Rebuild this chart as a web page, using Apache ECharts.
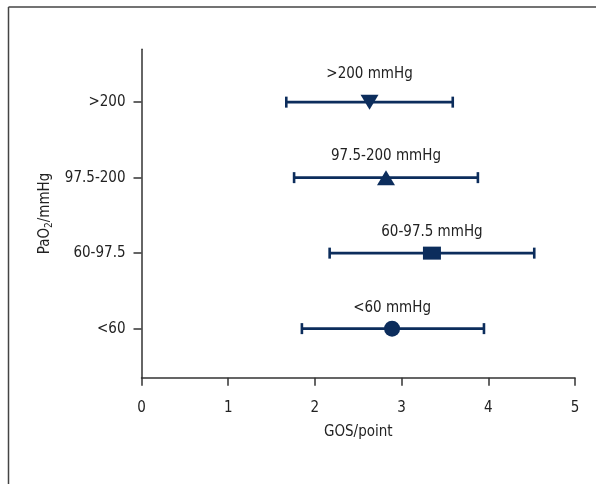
<!DOCTYPE html>
<html><head><meta charset="utf-8">
<script src="https://cdn.jsdelivr.net/npm/echarts@6/dist/echarts.min.js"></script>
<style>html,body{margin:0;padding:0;background:#fff}#c{width:596px;height:484px}</style>
</head><body><div id="c"></div>
<script>
// ---- data ----
const categories = ['<60', '60-97.5', '97.5-200', '>200'];
const groupLabels = ['<60 mmHg', '60-97.5 mmHg', '97.5-200 mmHg', '>200 mmHg'];
const means = [2.89, 3.35, 2.82, 2.63];
const lower = [1.85, 2.17, 1.76, 1.67];
const upper = [3.95, 4.53, 3.88, 3.59];
const xTicks = [0, 1, 2, 3, 4, 5];

// ---- style ----
const FONT = "'Liberation Sans Narrow', 'DejaVu Sans Condensed', sans-serif";
const FS = 15;
const NAVY = '#0c2d5c';
const TXT = '#222';
const markerStyle = {
  '<60': { symbol: 'circle', size: 16, rotate: 0, labelOffset: 21 },
  '60-97.5': { symbol: 'rect', size: [18, 13], rotate: 0, labelOffset: 21 },
  '97.5-200': { symbol: 'triangle', size: [18, 15], rotate: 0, labelOffset: 22 },
  '>200': { symbol: 'triangle', size: [18, 15], rotate: 180, labelOffset: 28 }
};

const chart = echarts.init(document.getElementById('c'), null, { renderer: 'canvas' });
const yOf = i => i + 1;

const barData = categories.map((c, i) => [lower[i], upper[i], yOf(i)]);
const pointData = categories.map((c, i) => {
  const m = markerStyle[c];
  return { value: [means[i], yOf(i)], symbol: m.symbol, symbolSize: m.size, symbolRotate: m.rotate };
});
const labelData = categories.map((c, i) => [means[i], yOf(i), i]);

const option = {
  animation: false,
  backgroundColor: '#fff',
  textStyle: { fontFamily: FONT },
  grid: { left: 141.5, right: 21, top: 49.3, bottom: 106.3, containLabel: false },
  xAxis: {
    type: 'value', min: 0, max: 5, interval: 1,
    name: 'GOS/point', nameLocation: 'middle', nameGap: 47,
    nameTextStyle: { fontFamily: FONT, fontSize: FS, color: TXT },
    axisLine: { show: true, lineStyle: { color: '#333', width: 1.5 } },
    axisTick: { show: true, inside: false, length: 8, lineStyle: { color: '#333', width: 1.5 } },
    axisLabel: { margin: 23, fontFamily: FONT, fontSize: FS, color: TXT,
      formatter: v => xTicks.includes(v) ? String(v) : '' },
    splitLine: { show: false }
  },
  yAxis: {
    type: 'value', min: 0.35, max: 4.7,
    name: 'PaO{s|2}/mmHg', nameLocation: 'middle', nameGap: 79, nameRotate: 90,
    nameTextStyle: { fontFamily: FONT, fontSize: FS, color: TXT,
      rich: { s: { fontFamily: FONT, fontSize: 10, color: TXT, verticalAlign: 'bottom', lineHeight: 18, padding: [8, 0, 0, 0] } } },
    axisLine: { show: true, onZero: false, lineStyle: { color: '#333', width: 1.5 } },
    axisTick: { show: true, inside: false, length: 8, customValues: [1, 2, 3, 4], lineStyle: { color: '#333', width: 1.5 } },
    axisLabel: { margin: 16, fontFamily: FONT, fontSize: FS, color: TXT, customValues: [1, 2, 3, 4],
      formatter: v => categories[Math.round(v) - 1] || '' },
    splitLine: { show: false }
  },
  graphic: [
    { type: 'line', shape: { x1: 8.5, y1: 7, x2: 596, y2: 7 }, style: { stroke: '#444', lineWidth: 1.5 } },
    { type: 'line', shape: { x1: 8.5, y1: 7, x2: 8.5, y2: 484 }, style: { stroke: '#444', lineWidth: 1.5 } }
  ],
  series: [
    {
      type: 'custom', data: barData, encode: { x: [0, 1], y: 2 }, z: 2,
      renderItem(params, api) {
        const y = api.value(2);
        const p1 = api.coord([api.value(0), y]);
        const p2 = api.coord([api.value(1), y]);
        const h = 5.5;
        const st = { stroke: NAVY, lineWidth: 2.6 };
        return { type: 'group', children: [
          { type: 'line', shape: { x1: p1[0], y1: p1[1], x2: p2[0], y2: p2[1] }, style: st },
          { type: 'line', shape: { x1: p1[0], y1: p1[1] - h, x2: p1[0], y2: p1[1] + h }, style: st },
          { type: 'line', shape: { x1: p2[0], y1: p2[1] - h, x2: p2[0], y2: p2[1] + h }, style: st }
        ] };
      }
    },
    {
      type: 'scatter', data: pointData, z: 3,
      itemStyle: { color: NAVY, opacity: 1 }
    },
    {
      type: 'custom', data: labelData, encode: { x: 0, y: 1 }, z: 4,
      renderItem(params, api) {
        const i = api.value(2);
        const p = api.coord([api.value(0), api.value(1)]);
        const off = markerStyle[categories[i]].labelOffset;
        return { type: 'text', x: p[0], y: p[1] - off,
          style: { text: groupLabels[i], fill: TXT, font: FS + 'px ' + FONT, align: 'center', verticalAlign: 'middle' } };
      }
    }
  ]
};
chart.setOption(option);
</script>
</body></html>
